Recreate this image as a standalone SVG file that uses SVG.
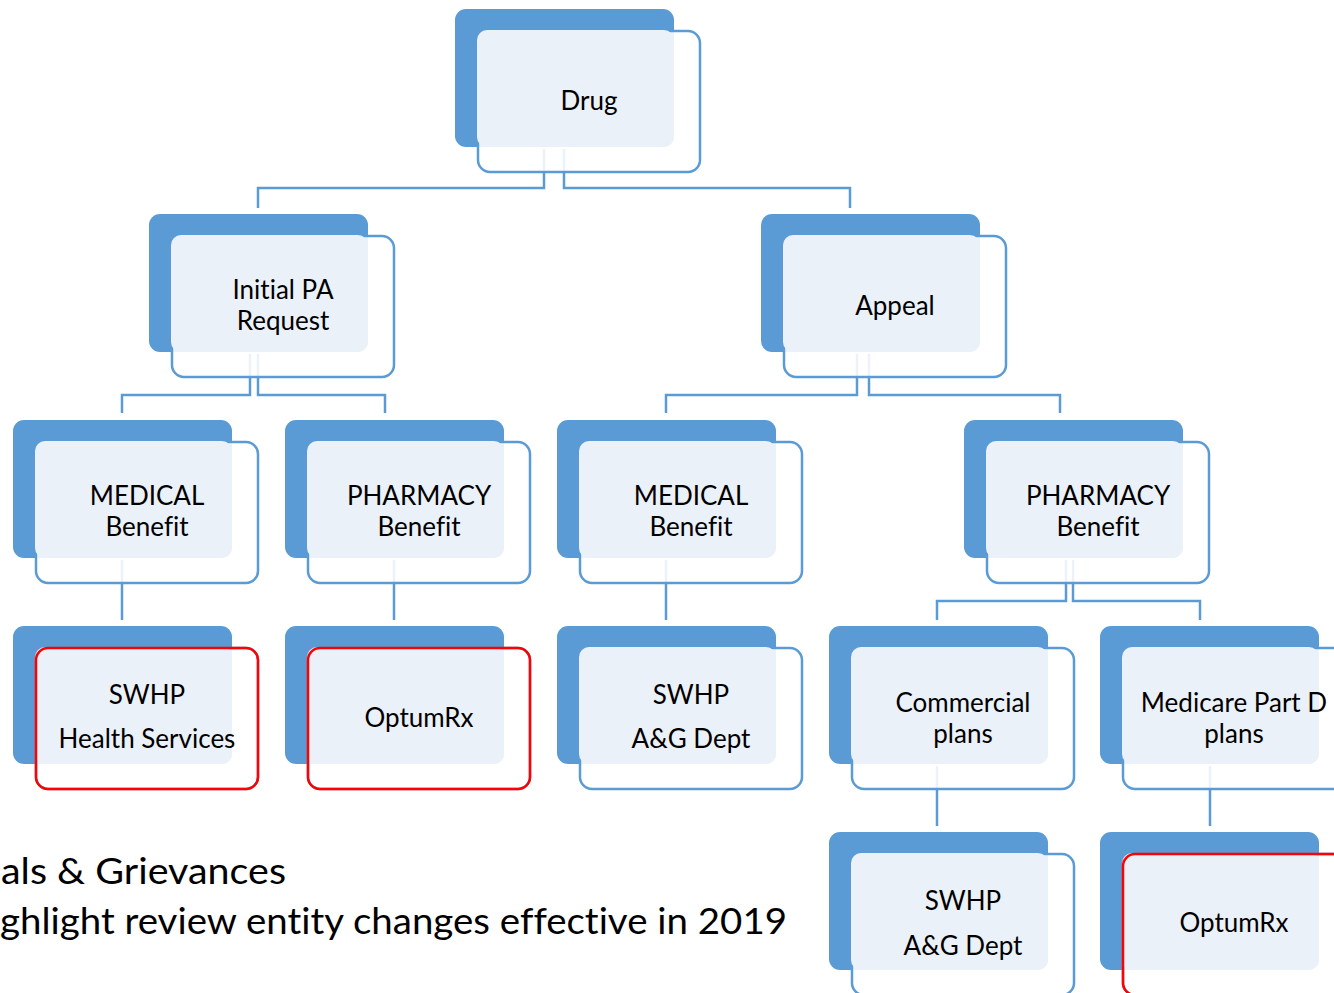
<svg xmlns="http://www.w3.org/2000/svg" width="1334" height="993" viewBox="0 0 1334 993">
<defs>
<style>
.back{fill:#5B9BD5;}
.front{fill:#FFFFFF;fill-opacity:0.88;stroke:#5B9BD5;stroke-width:2.5;}
.light{fill:#EAF1F9;}
.red{fill:none;stroke:#FF0000;stroke-width:2.5;}
.conn{fill:none;stroke:#5B9BD5;stroke-width:2.5;}
.t{font-family:Lato,"Liberation Sans",sans-serif;font-size:26px;fill:#000;text-anchor:middle;font-variant-ligatures:none;}
.note{font-family:Lato,"Liberation Sans",sans-serif;font-size:36px;fill:#000;font-variant-ligatures:none;}
</style>
</defs>
<rect width="1334" height="993" fill="#FFFFFF"/>
<g id="connectors">
<path class="conn" d="M544,149 V188 H258 V208"/>
<path class="conn" d="M564,149 V188 H850 V208"/>
<path class="conn" d="M250,354 V395 H122 V413"/>
<path class="conn" d="M258,354 V395 H385 V413"/>
<path class="conn" d="M857,354 V395 H666 V413"/>
<path class="conn" d="M869,354 V395 H1060 V413"/>
<path class="conn" d="M122,560 V620"/>
<path class="conn" d="M394,560 V620"/>
<path class="conn" d="M666,560 V620"/>
<path class="conn" d="M1066,560 V601 H937 V620"/>
<path class="conn" d="M1073,560 V601 H1200 V620"/>
<path class="conn" d="M937,766 V826"/>
<path class="conn" d="M1210,766 V826"/>
</g>
<g id="drug">
<rect class="back" x="455" y="9" width="219" height="138" rx="11"/>
<rect class="front" x="478" y="31" width="222" height="141" rx="12"/>
<rect class="light" x="477" y="30" width="197" height="117" rx="10"/>
<text class="t" x="589" y="110">Drug</text>
</g>
<g id="initial-pa">
<rect class="back" x="149" y="214" width="219" height="138" rx="11"/>
<rect class="front" x="172" y="236" width="222" height="141" rx="12"/>
<rect class="light" x="171" y="235" width="197" height="117" rx="10"/>
<text class="t" x="283" y="299">Initial PA</text>
<text class="t" x="283" y="330">Request</text>
</g>
<g id="appeal">
<rect class="back" x="761" y="214" width="219" height="138" rx="11"/>
<rect class="front" x="784" y="236" width="222" height="141" rx="12"/>
<rect class="light" x="783" y="235" width="197" height="117" rx="10"/>
<text class="t" x="895" y="315">Appeal</text>
</g>
<g id="medical-1">
<rect class="back" x="13" y="420" width="219" height="138" rx="11"/>
<rect class="front" x="36" y="442" width="222" height="141" rx="12"/>
<rect class="light" x="35" y="441" width="197" height="117" rx="10"/>
<text class="t" x="147" y="505">MEDICAL</text>
<text class="t" x="147" y="536">Benefit</text>
</g>
<g id="pharmacy-1">
<rect class="back" x="285" y="420" width="219" height="138" rx="11"/>
<rect class="front" x="308" y="442" width="222" height="141" rx="12"/>
<rect class="light" x="307" y="441" width="197" height="117" rx="10"/>
<text class="t" x="419" y="505">PHARMACY</text>
<text class="t" x="419" y="536">Benefit</text>
</g>
<g id="medical-2">
<rect class="back" x="557" y="420" width="219" height="138" rx="11"/>
<rect class="front" x="580" y="442" width="222" height="141" rx="12"/>
<rect class="light" x="579" y="441" width="197" height="117" rx="10"/>
<text class="t" x="691" y="505">MEDICAL</text>
<text class="t" x="691" y="536">Benefit</text>
</g>
<g id="pharmacy-2">
<rect class="back" x="964" y="420" width="219" height="138" rx="11"/>
<rect class="front" x="987" y="442" width="222" height="141" rx="12"/>
<rect class="light" x="986" y="441" width="197" height="117" rx="10"/>
<text class="t" x="1098" y="505">PHARMACY</text>
<text class="t" x="1098" y="536">Benefit</text>
</g>
<g id="swhp-health">
<rect class="back" x="13" y="626" width="219" height="138" rx="11"/>
<rect class="front" x="36" y="648" width="222" height="141" rx="12"/>
<rect class="light" x="35" y="647" width="197" height="117" rx="10"/>
<rect class="red" x="36" y="648" width="222" height="141" rx="12"/>
<text class="t" x="147" y="704">SWHP</text>
<text class="t" x="147" y="748">Health Services</text>
</g>
<g id="optumrx-1">
<rect class="back" x="285" y="626" width="219" height="138" rx="11"/>
<rect class="front" x="308" y="648" width="222" height="141" rx="12"/>
<rect class="light" x="307" y="647" width="197" height="117" rx="10"/>
<rect class="red" x="308" y="648" width="222" height="141" rx="12"/>
<text class="t" x="419" y="727">OptumRx</text>
</g>
<g id="swhp-ag-1">
<rect class="back" x="557" y="626" width="219" height="138" rx="11"/>
<rect class="front" x="580" y="648" width="222" height="141" rx="12"/>
<rect class="light" x="579" y="647" width="197" height="117" rx="10"/>
<text class="t" x="691" y="704">SWHP</text>
<text class="t" x="691" y="748">A&amp;G Dept</text>
</g>
<g id="commercial">
<rect class="back" x="829" y="626" width="219" height="138" rx="11"/>
<rect class="front" x="852" y="648" width="222" height="141" rx="12"/>
<rect class="light" x="851" y="647" width="197" height="117" rx="10"/>
<text class="t" x="963" y="712">Commercial</text>
<text class="t" x="963" y="743">plans</text>
</g>
<g id="medicare">
<rect class="back" x="1100" y="626" width="219" height="138" rx="11"/>
<rect class="front" x="1123" y="648" width="222" height="141" rx="12"/>
<rect class="light" x="1122" y="647" width="197" height="117" rx="10"/>
<text class="t" x="1234" y="712">Medicare Part D</text>
<text class="t" x="1234" y="743">plans</text>
</g>
<g id="swhp-ag-2">
<rect class="back" x="829" y="832" width="219" height="138" rx="11"/>
<rect class="front" x="852" y="854" width="222" height="141" rx="12"/>
<rect class="light" x="851" y="853" width="197" height="117" rx="10"/>
<text class="t" x="963" y="910">SWHP</text>
<text class="t" x="963" y="955">A&amp;G Dept</text>
</g>
<g id="optumrx-2">
<rect class="back" x="1100" y="832" width="219" height="138" rx="11"/>
<rect class="front" x="1123" y="854" width="222" height="141" rx="12"/>
<rect class="light" x="1122" y="853" width="197" height="117" rx="10"/>
<rect class="red" x="1123" y="854" width="222" height="141" rx="12"/>
<text class="t" x="1234" y="932">OptumRx</text>
</g>
<g id="notes">
<text class="note" x="1" y="884" textLength="285" lengthAdjust="spacingAndGlyphs">als &amp; Grievances</text>
<text class="note" x="0" y="934" textLength="787" lengthAdjust="spacingAndGlyphs">ghlight review entity changes effective in 2019</text>
</g>
</svg>
